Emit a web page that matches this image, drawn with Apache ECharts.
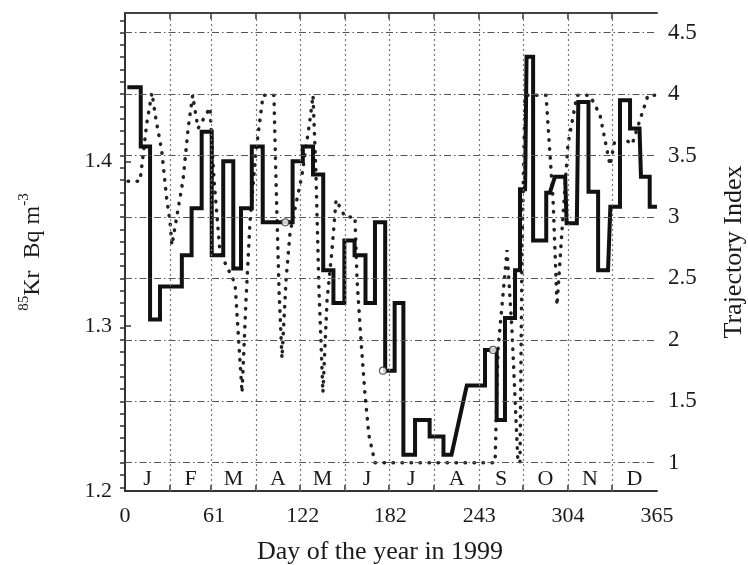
<!DOCTYPE html>
<html>
<head>
<meta charset="utf-8">
<script src="https://cdn.jsdelivr.net/npm/echarts@6/dist/echarts.min.js"></script>
<style>
  html, body { margin: 0; padding: 0; background: #ffffff; }
  #chart { width: 748px; height: 565px; }
</style>
</head>
<body>
<div id="chart"></div>
<script>
// 85Kr activity (Bq m^-3): each sample holds from krStart to krEnd (day of year)
const krStart = [3, 10.8, 17.2, 24, 39, 45.7, 52.6, 59.5, 67.4, 74.3, 79.6, 87, 94.5, 115, 122, 129, 136, 143, 150.5, 157.5,
  165, 171.5, 178.5, 185, 191, 199, 209, 218.5, 234.5, 247, 255, 260.7, 267.6, 271, 275.5, 280, 289, 295, 303, 311,
  318, 324.6, 333, 339.6, 346.5, 354, 360];
const krEnd = [10.8, 17.2, 24, 39, 45.7, 52.6, 59.5, 67.4, 74.3, 79.6, 87, 94.5, 115, 122, 129, 136, 143, 150.5, 157.5, 165,
  171.5, 178.5, 185, 191, 199, 209, 218.5, 224, 247, 255, 260.7, 267.6, 271, 274.5, 280, 289, 291.5, 302, 310, 318,
  324.6, 331.4, 339.6, 346.5, 353, 360, 363.6];
const krValue = [1.445, 1.409, 1.304, 1.324, 1.343, 1.3715, 1.418, 1.343, 1.400, 1.335, 1.3715, 1.409, 1.363, 1.400, 1.409,
  1.392, 1.334, 1.314, 1.352, 1.343, 1.314, 1.363, 1.273, 1.314, 1.222, 1.243, 1.233, 1.222, 1.264, 1.2856, 1.243,
  1.305, 1.334, 1.383, 1.4635, 1.352, 1.381, 1.3907, 1.3624, 1.436, 1.3816, 1.334, 1.3725, 1.437, 1.42, 1.3907, 1.3725];

// Samples flagged with an open circle
const flaggedDays = [110, 177, 252.5];
const flaggedKr = [1.363, 1.273, 1.2856];

// Trajectory index through the year
const trajDay = [2.1, 10.3, 14.9, 18.5, 21.3, 25.2, 28.6, 30.9, 32.2, 35.5, 39.8, 43.4, 46.4, 50.1, 58.3, 61.1, 65.2, 75.5,
  80.3, 83.0, 85.8, 89.9, 94.7, 102.2, 103.6, 105.7, 107.7, 110.5, 113.2, 121.4, 126.9, 129.0, 131.0, 133.1, 135.8,
  138.6, 142.0, 144.8, 151.0, 157.8, 159.2, 161.9, 164.7, 167.4, 171.5, 253.9, 255.9, 262.1, 265.5, 269.6, 271.0,
  272.4, 274.4, 288.9, 290.9, 293.7, 296.4, 299.8, 303.9, 310.1, 319.0, 325.9, 332.8, 336.2, 342.4, 347.9, 353.3,
  358.8, 364.3];
const trajIndex = [3.29, 3.29, 3.76, 4.01, 3.79, 3.54, 3.15, 2.96, 2.77, 3.00, 3.30, 3.73, 3.99, 3.72, 3.89, 3.30, 2.71, 2.46,
  1.57, 2.32, 2.97, 3.54, 3.99, 3.99, 3.30, 2.40, 1.85, 2.49, 2.87, 3.34, 3.79, 3.99, 3.36, 2.40, 1.57,
  2.32, 2.73, 3.14, 3.00, 3.00, 2.49, 2.00, 1.55, 1.22, 1.0, 1.0, 1.92, 2.73, 2.08, 1.0, 1.0,
  2.73, 3.99, 3.99, 3.63, 3.14, 2.28, 2.89, 3.59, 3.99, 3.99, 3.83, 3.42, 3.63, 3.64, 3.59, 3.79,
  3.99, 3.99];

// Calendar
const monthStarts = [0, 31, 59, 90, 120, 151, 181, 212, 243, 273, 304, 334, 365];
const monthLetters = ['J', 'F', 'M', 'A', 'M', 'J', 'J', 'A', 'S', 'O', 'N', 'D'];

// Axis ticks and labels
const dayTicks = [0, 61, 122, 182, 243, 304, 365];
const dayTickLabels = ['0', '61', '122', '182', '243', '304', '365'];
const krTicks = [1.2, 1.3, 1.4];
const krTickLabels = ['1.2', '1.3', '1.4'];
const trajTicks = [1, 1.5, 2, 2.5, 3, 3.5, 4, 4.5];
const trajTickLabels = ['1', '1.5', '2', '2.5', '3', '3.5', '4', '4.5'];

const FONT = 'Liberation Serif';
const INK = '#1a1a1a';

const monthBoundaries = monthStarts.slice(1, -1);
const monthCenters = monthLetters.map((_, i) => (monthStarts[i] + monthStarts[i + 1]) / 2);
const trajMinorTicks = [];
for (let k = 8; k <= 46; k++) trajMinorTicks.push(k / 10);

// Step trace: each sample drawn flat over its own span
const krLine = [];
krStart.forEach((s, i) => { krLine.push([s, krValue[i]]); krLine.push([krEnd[i], krValue[i]]); });
const trajLine = trajDay.map((d, i) => [d, trajIndex[i]]);
const flagged = flaggedDays.map((d, i) => [d, flaggedKr[i]]);

function pick(values, labels) {
  return function (v) {
    const i = values.findIndex(x => Math.abs(x - v) < 1e-6);
    return i < 0 ? '' : labels[i];
  };
}

const chart = echarts.init(document.getElementById('chart'), null, { renderer: 'canvas' });

chart.setOption({
  animation: false,
  backgroundColor: '#ffffff',
  grid: { left: 125, right: 91, top: 13, bottom: 74, show: false, containLabel: false, outerBoundsMode: 'none' },
  xAxis: [
    {
      type: 'value', position: 'bottom', min: 0, max: 365,
      axisLine: { show: true, lineStyle: { color: '#333', width: 2 } },
      axisTick: { show: true, inside: true, length: 6, customValues: monthBoundaries, lineStyle: { color: '#333', width: 1.5 } },
      axisLabel: { customValues: dayTicks, formatter: pick(dayTicks, dayTickLabels), fontFamily: FONT, fontSize: 22, color: INK, margin: 14 },
      splitLine: { show: false },
      name: 'Day of the year in 1999', nameLocation: 'middle', nameGap: 48,
      nameTextStyle: { fontFamily: FONT, fontSize: 26, color: INK, padding: [0, 22, 0, 0] }
    },
    {
      type: 'value', position: 'top', min: 0, max: 365,
      axisLine: { show: true, lineStyle: { color: '#444', width: 2 } },
      axisTick: { show: true, inside: true, length: 6, customValues: monthBoundaries, lineStyle: { color: '#333', width: 1.5 } },
      axisLabel: { show: false },
      splitLine: { show: false }
    },
    {
      // month initials along the bottom band
      type: 'value', position: 'bottom', min: 0, max: 365,
      axisLine: { show: false }, axisTick: { show: false }, splitLine: { show: false },
      axisLabel: { inside: true, margin: 1, customValues: monthCenters, formatter: pick(monthCenters, monthLetters), fontFamily: FONT, fontSize: 22, color: INK }
    }
  ],
  yAxis: [
    {
      type: 'value', position: 'left', min: 1.2, max: 1.49,
      axisLine: { show: true, lineStyle: { color: '#333', width: 2 } },
      axisTick: { show: true, inside: true, length: 6, customValues: krTicks, lineStyle: { color: '#333', width: 1.5 } },
      axisLabel: { customValues: krTicks, formatter: pick(krTicks, krTickLabels), fontFamily: FONT, fontSize: 22, color: INK, margin: 13 },
      splitLine: { show: false },
      name: '{sup|85}{main|Kr  Bq m}{sup|-3}', nameLocation: 'middle', nameRotate: 90, nameGap: 80,
      nameTextStyle: {
        color: INK, fontFamily: FONT, fontSize: 24,
        rich: {
          main: { fontFamily: FONT, fontSize: 24, color: INK, lineHeight: 28, verticalAlign: 'bottom' },
          sup: { fontFamily: FONT, fontSize: 15, color: INK, lineHeight: 28, verticalAlign: 'top', padding: [0, 0, 10, 0] }
        }
      }
    },
    {
      type: 'value', position: 'right', min: 0.77, max: 4.66,
      axisLine: { show: true, lineStyle: { color: '#333', width: 2 } },
      axisTick: { show: true, inside: true, length: 5, customValues: trajMinorTicks, lineStyle: { color: '#333', width: 1.5 } },
      axisLabel: { customValues: trajTicks, formatter: pick(trajTicks, trajTickLabels), fontFamily: FONT, fontSize: 23, color: INK, margin: 11 },
      splitLine: { show: false },
      name: 'Trajectory Index', nameLocation: 'middle', nameRotate: 90, nameGap: 64,
      nameTextStyle: { fontFamily: FONT, fontSize: 26, color: INK }
    }
  ],
  series: [
    {
      // reference grid: index levels and month boundaries
      type: 'line', xAxisIndex: 0, yAxisIndex: 1, data: [], silent: true, z: 1,
      markLine: {
        silent: true, symbol: ['none', 'none'], label: { show: false }, animation: false,
        data: trajTicks.map(v => ({ yAxis: v, lineStyle: { type: [7, 3, 1.5, 3], color: '#555', width: 1.2 } }))
          .concat(monthBoundaries.map(d => ({ xAxis: d, lineStyle: { type: [2, 3], color: '#777', width: 1.2 } })))
      }
    },
    {
      name: 'Trajectory Index', type: 'line', xAxisIndex: 0, yAxisIndex: 1, z: 3,
      data: trajLine, showSymbol: false, smooth: false,
      lineStyle: { color: '#222', width: 3.5, type: [0.5, 8.5], cap: 'round' }
    },
    {
      name: '85Kr', type: 'line', xAxisIndex: 0, yAxisIndex: 0, z: 4,
      data: krLine, showSymbol: false, smooth: false,
      lineStyle: { color: '#111', width: 4, join: 'miter', cap: 'square' }
    },
    {
      type: 'scatter', xAxisIndex: 0, yAxisIndex: 0, z: 5,
      data: flagged, symbol: 'circle', symbolSize: 7,
      itemStyle: { color: '#ffffff', borderColor: '#333', borderWidth: 1.2 }
    }
  ]
});
</script>
</body>
</html>
